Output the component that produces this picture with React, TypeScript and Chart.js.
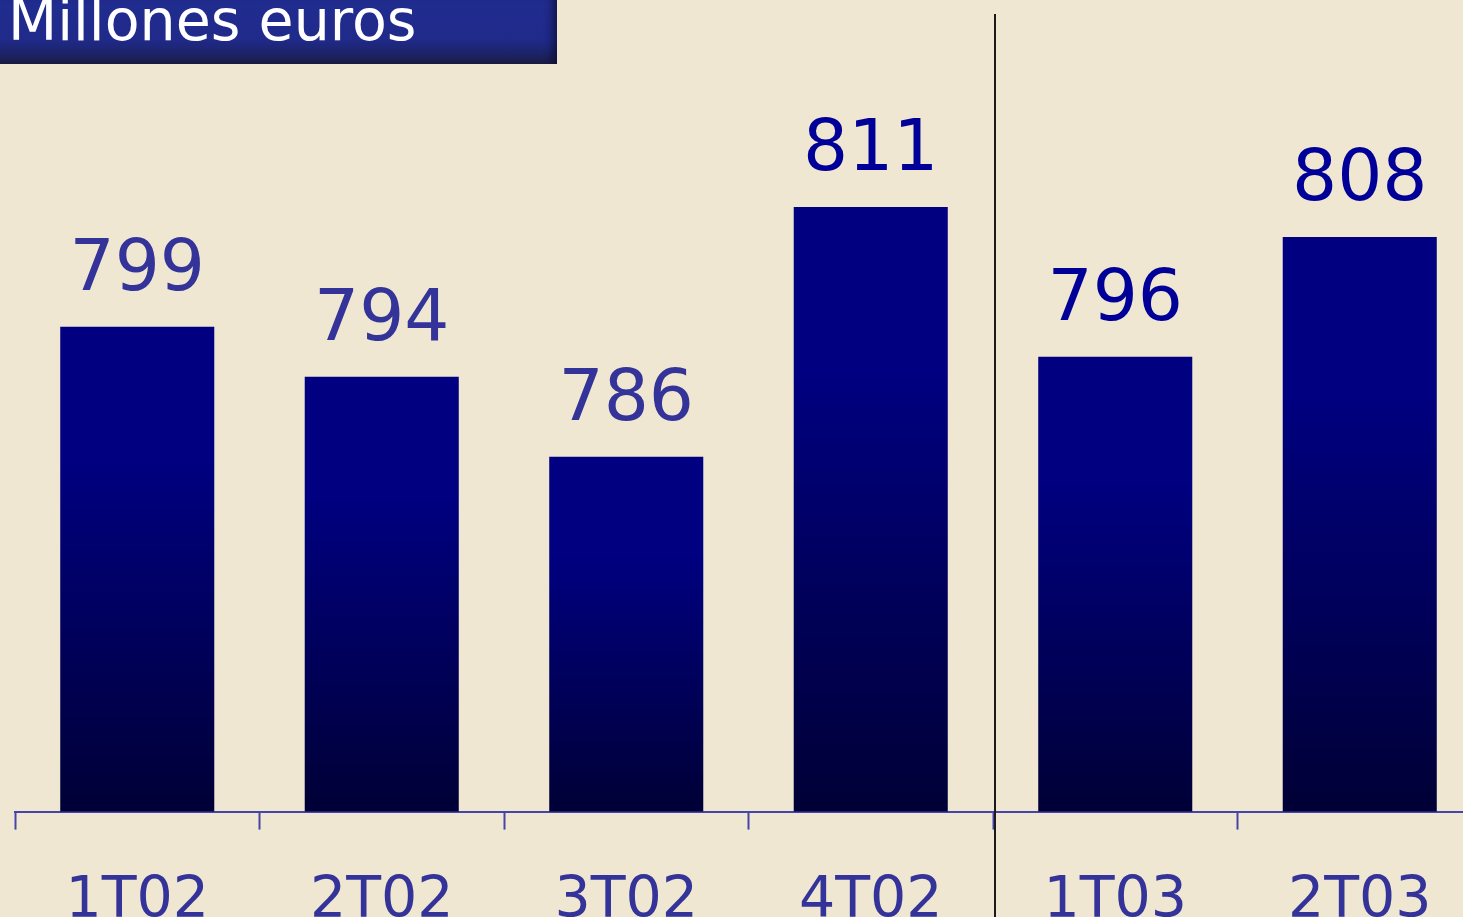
import React, { useEffect, useRef } from 'react';
import { Chart, registerables } from 'chart.js';

Chart.register(...registerables);

const categories = ['1T02', '2T02', '3T02', '4T02', '1T03', '2T03'];
const values = [799, 794, 786, 811, 796, 808];
const labelColors = ['#333399', '#333399', '#333399', '#000099', '#000099', '#000099'];
const yMin = 750.5;
const yMax = 830.5;
const dividerAfterIndex = 3;
const titleText = 'Millones euros';

const FONT = '"DejaVu Sans", Verdana, sans-serif';

export default function App() {
  const canvasRef = useRef<HTMLCanvasElement | null>(null);

  useEffect(() => {
    const canvas = canvasRef.current;
    if (!canvas) return;

    const overlay = {
      id: 'overlay',
      afterDatasetsDraw(chart: any) {
        const ctx = chart.ctx;
        const meta = chart.getDatasetMeta(0);
        ctx.save();
        ctx.font = `71px ${FONT}`;
        ctx.textAlign = 'center';
        ctx.textBaseline = 'alphabetic';
        meta.data.forEach((bar: any, i: number) => {
          ctx.fillStyle = labelColors[i];
          ctx.fillText(String(values[i]), bar.x, bar.y - 37);
        });
        ctx.restore();
      },
      afterDraw(chart: any) {
        const ctx = chart.ctx;
        const xs = chart.scales.x;
        const px =
          (xs.getPixelForValue(dividerAfterIndex) + xs.getPixelForValue(dividerAfterIndex + 1)) / 2 + 2;
        ctx.save();
        ctx.strokeStyle = '#1a1a1a';
        ctx.lineWidth = 2;
        ctx.beginPath();
        ctx.moveTo(px, 14);
        ctx.lineTo(px, chart.height);
        ctx.stroke();
        ctx.restore();
      },
    };

    const chart = new Chart(canvas, {
      type: 'bar',
      data: {
        labels: categories,
        datasets: [
          {
            data: values,
            backgroundColor: (c: any) => {
              const ch = c.chart;
              if (!ch.chartArea || c.dataIndex == null) return '#000080';
              const ys = ch.scales.y;
              const top = ys.getPixelForValue(values[c.dataIndex]);
              const bottom = ys.getPixelForValue(yMin);
              const g = ch.ctx.createLinearGradient(0, top, 0, bottom);
              g.addColorStop(0, '#000080');
              g.addColorStop(0.28, '#000080');
              g.addColorStop(1, '#000036');
              return g;
            },
            borderWidth: 0,
            categoryPercentage: 1,
            barPercentage: 0.63,
          },
        ],
      },
      options: {
        responsive: false,
        animation: false,
        layout: { padding: { left: 15, right: 18, top: 12, bottom: 0 } },
        plugins: {
          legend: { display: false },
          tooltip: { enabled: false },
          title: { display: false },
        },
        scales: {
          x: {
            grid: {
              display: true,
              drawOnChartArea: false,
              drawTicks: true,
              tickLength: 18,
              tickWidth: 2,
              tickColor: '#4444aa',
              offset: true,
            },
            border: { display: true, color: '#4444aa', width: 2 },
            ticks: {
              color: '#333399',
              font: { family: FONT, size: 57 },
              padding: 38,
              maxRotation: 0,
              autoSkip: false,
            },
          },
          y: {
            display: false,
            min: yMin,
            max: yMax,
          },
        },
      },
      plugins: [overlay],
    });

    return () => chart.destroy();
  }, []);

  return (
    <div
      style={{
        position: 'absolute',
        left: 0,
        top: 0,
        width: 1463,
        height: 917,
        overflow: 'hidden',
        background: '#EFE7D1',
      }}
    >
      <canvas
        ref={canvasRef}
        width={1500}
        height={974}
        style={{ display: 'block', position: 'absolute', left: 0, top: 0, width: 1500, height: 974 }}
      />
      <div
        style={{
          position: 'absolute',
          left: 0,
          top: 0,
          width: 557,
          height: 64,
          overflow: 'hidden',
          background: 'linear-gradient(to bottom, #212c90 0%, #1f2a8a 62%, #1c2366 85%, #1a1c40 100%)',
          boxShadow: 'inset -10px 0 8px -6px rgba(10,10,40,0.7)',
        }}
      >
        <span
          style={{
            position: 'absolute',
            left: 8,
            top: -8,
            fontFamily: FONT,
            fontSize: 57,
            lineHeight: 1,
            color: '#ffffff',
            whiteSpace: 'nowrap',
          }}
        >
          {titleText}
        </span>
      </div>
    </div>
  );
}
